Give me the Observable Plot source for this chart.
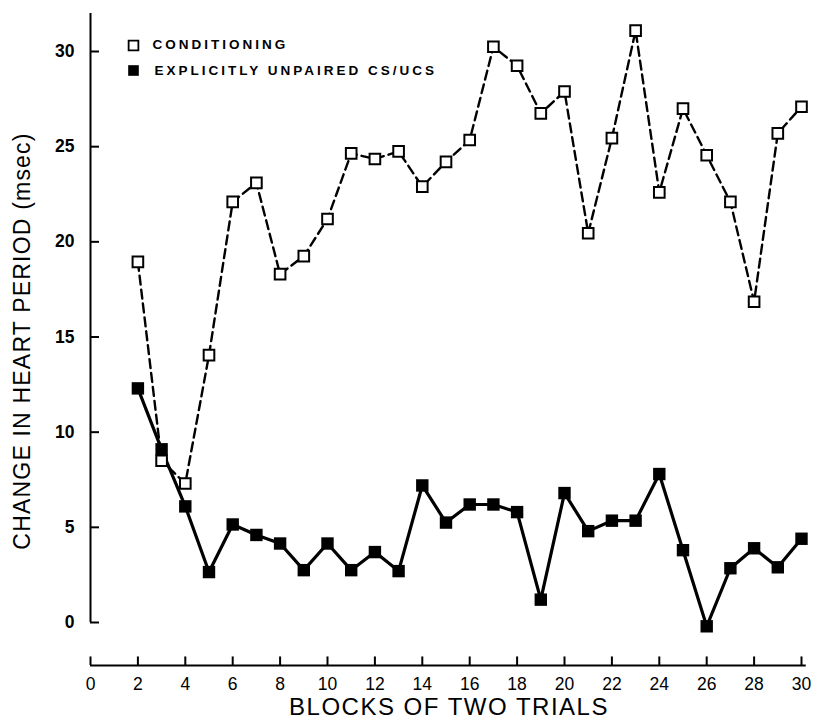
<!DOCTYPE html>
<html><head><meta charset="utf-8">
<script src="https://cdn.jsdelivr.net/npm/d3@7"></script>
<script src="https://cdn.jsdelivr.net/npm/@observablehq/plot@0.6"></script>
<style>body{margin:0;background:#fff} svg{display:block}</style>
</head><body><div id="chart"></div>
<script>
const blocks = [2,3,4,5,6,7,8,9,10,11,12,13,14,15,16,17,18,19,20,21,22,23,24,25,26,27,28,29,30];
const conditioning = [18.95,8.5,7.3,14.05,22.1,23.1,18.3,19.25,21.2,24.65,24.35,24.75,22.9,24.2,25.35,30.25,29.25,26.75,27.9,20.45,25.45,31.1,22.6,27.0,24.55,22.1,16.85,25.7,27.1];
const unpaired = [12.3,9.1,6.1,2.65,5.15,4.6,4.15,2.75,4.15,2.75,3.7,2.7,7.2,5.25,6.2,6.2,5.8,1.2,6.8,4.8,5.35,5.35,7.8,3.8,-0.2,2.85,3.9,2.9,4.4];
const xTicks = [0,2,4,6,8,10,12,14,16,18,20,22,24,26,28,30];
const yTicks = [0,5,10,15,20,25,30];
const legendLabels = ["CONDITIONING","EXPLICITLY UNPAIRED CS/UCS"];
const xTitle = "BLOCKS OF TWO TRIALS";
const yTitle = "CHANGE IN HEART PERIOD (msec)";

const condData = blocks.map((b,i)=>({block:b, value:conditioning[i]}));
const unpData = blocks.map((b,i)=>({block:b, value:unpaired[i]}));

const xAxisLevel = -2.26; // y-value where the detached x axis sits
const font = "'Liberation Sans', Arial, Helvetica, sans-serif";

const chart = Plot.plot({
  width: 817, height: 724,
  marginLeft: 90, marginRight: 10, marginTop: 0, marginBottom: 59,
  x: {domain:[0,30], range:[90,801]},
  y: {domain:[0,30], range:[622,51]},
  style: {fontFamily: font, color:"#000", background:"#fff"},
  marks: [
    Plot.ruleX([0], {y1:0, y2:32, stroke:"#000", strokeWidth:2}),
    Plot.ruleY(yTicks, {x1:0, x2:0.38, stroke:"#000", strokeWidth:2}),
    Plot.axisY({ticks:yTicks, tickSize:0, tickPadding:16, fontSize:17.5, fontWeight:"bold", label:null}),
    Plot.ruleY([xAxisLevel], {x1:0, x2:30.2, stroke:"#000", strokeWidth:2}),
    Plot.ruleX(xTicks, {y1:xAxisLevel, y2:xAxisLevel+0.45, stroke:"#000", strokeWidth:2}),
    Plot.axisX({ticks:xTicks, tickSize:0, tickPadding:12, fontSize:17.5, label:null}),
    Plot.text([yTitle], {frameAnchor:"left", rotate:-90, dx:-68, dy:8, textAnchor:"middle", lineAnchor:"middle", fontSize:23, fill:"#000"}),
    Plot.text([xTitle], {frameAnchor:"bottom", dy:42, textAnchor:"middle", lineAnchor:"middle", fontSize:24, fill:"#000"}),
    Plot.line(unpData, {x:"block", y:"value", stroke:"#000", strokeWidth:3.2}),
    Plot.dot(unpData, {x:"block", y:"value", symbol:"square", r:7, fill:"#000", stroke:"none"}),
    Plot.line(condData, {x:"block", y:"value", stroke:"#000", strokeWidth:2.4, strokeDasharray:"9,5"}),
    Plot.dot(condData, {x:"block", y:"value", symbol:"square", r:6, fill:"#fff", stroke:"#000", strokeWidth:2}),
    Plot.dot([legendLabels[0]], {frameAnchor:"top-left", dx:43, dy:45, symbol:"square", r:5.5, fill:"#fff", stroke:"#000", strokeWidth:1.8}),
    Plot.dot([legendLabels[1]], {frameAnchor:"top-left", dx:43, dy:70, symbol:"square", r:6, fill:"#000", stroke:"none"}),
    Plot.text([legendLabels[0]], {frameAnchor:"top-left", dx:62, dy:44, textAnchor:"start", lineAnchor:"middle", fontSize:13.5, fontWeight:"bold", fill:"#000"}),
    Plot.text([legendLabels[1]], {frameAnchor:"top-left", dx:64, dy:70, textAnchor:"start", lineAnchor:"middle", fontSize:13.5, fontWeight:"bold", fill:"#000"})
  ]
});
document.getElementById("chart").appendChild(chart);
chart.querySelectorAll("text").forEach(t => {
  const s = t.textContent;
  if (legendLabels.includes(s)) t.style.letterSpacing = "3px";
  else if (s === xTitle) t.style.letterSpacing = "1.5px";
  else if (s === yTitle) t.style.letterSpacing = "1.2px";
});
</script>
</body></html>
